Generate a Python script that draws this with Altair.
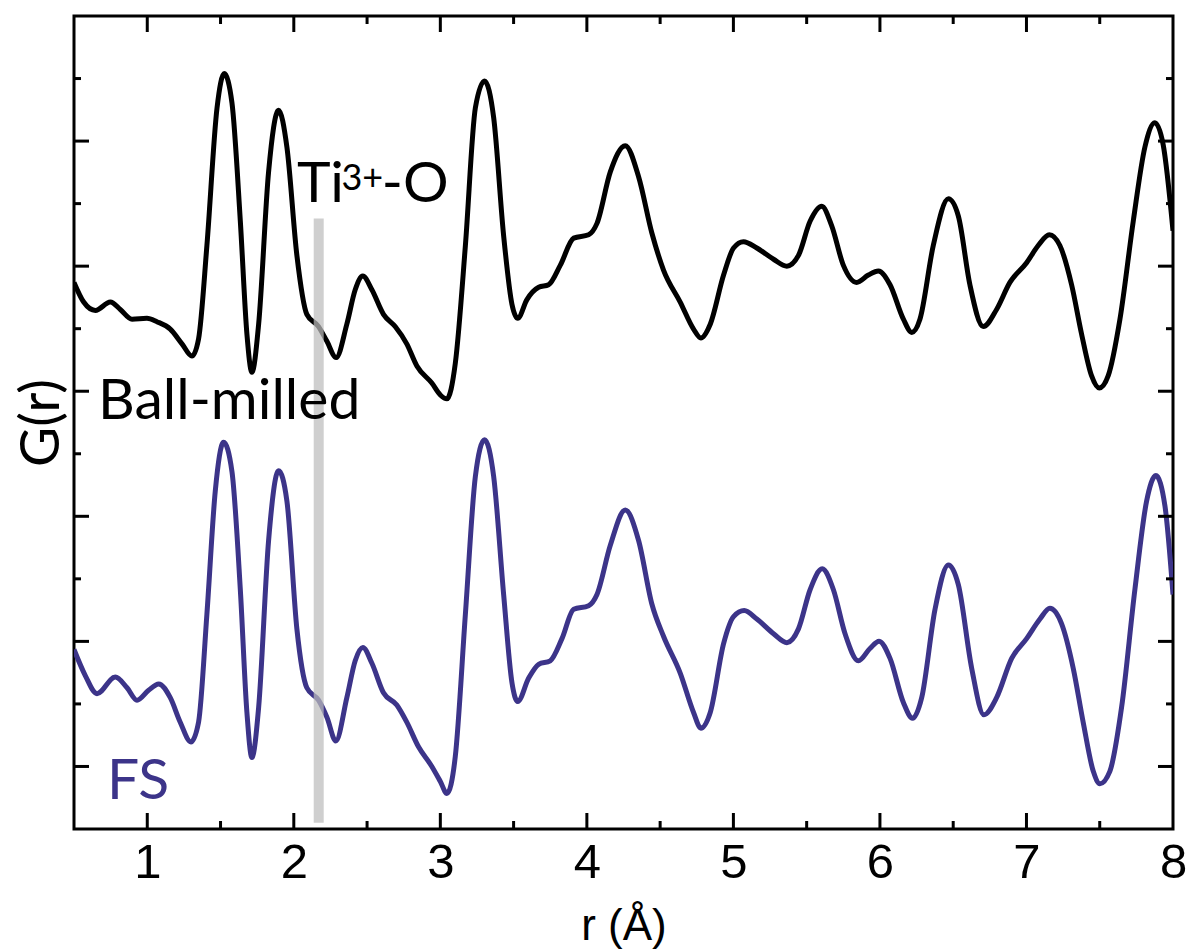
import altair as alt
import pandas as pd

# Ball-milled G(r) trace
r_ball = [0.50, 0.566, 0.646, 0.748, 0.816, 0.896, 0.998, 1.066, 1.157, 1.237,
          1.305, 1.350, 1.407, 1.476, 1.525, 1.578, 1.635, 1.680, 1.714, 1.760,
          1.828, 1.896, 1.953, 2.021, 2.089, 2.169, 2.226, 2.289, 2.362, 2.419,
          2.471, 2.533, 2.612, 2.692, 2.771, 2.840, 2.942, 3.000, 3.045, 3.102,
          3.171, 3.239, 3.302, 3.364, 3.432, 3.489, 3.528, 3.591, 3.671, 3.739,
          3.819, 3.910, 4.012, 4.069, 4.160, 4.262, 4.353, 4.444, 4.523, 4.637,
          4.728, 4.778, 4.842, 4.933, 5.001, 5.069, 5.160, 5.274, 5.365, 5.444,
          5.524, 5.603, 5.671, 5.750, 5.841, 5.921, 5.989, 6.069, 6.160, 6.217,
          6.273, 6.364, 6.467, 6.535, 6.614, 6.705, 6.796, 6.887, 7.001, 7.080,
          7.156, 7.228, 7.308, 7.376, 7.444, 7.497, 7.558, 7.638, 7.729, 7.808,
          7.876, 7.933, 8.00]
g_ball = [3.870, 3.713, 3.646, 3.713, 3.654, 3.576, 3.583, 3.556, 3.497, 3.379,
          3.281, 3.418, 4.165, 5.265, 5.540, 5.305, 4.361, 3.458, 3.151, 3.536,
          4.754, 5.246, 4.951, 4.086, 3.615, 3.517, 3.399, 3.269, 3.536, 3.811,
          3.921, 3.811, 3.615, 3.517, 3.379, 3.202, 3.065, 2.970, 2.939, 3.222,
          4.165, 5.265, 5.481, 5.187, 4.244, 3.694, 3.583, 3.733, 3.831, 3.851,
          4.008, 4.224, 4.251, 4.342, 4.754, 4.963, 4.715, 4.263, 3.969, 3.713,
          3.497, 3.426, 3.536, 3.929, 4.145, 4.196, 4.145, 4.055, 4.000, 4.086,
          4.361, 4.479, 4.322, 4.008, 3.870, 3.929, 3.961, 3.851, 3.576, 3.470,
          3.576, 4.165, 4.538, 4.401, 3.851, 3.517, 3.654, 3.870, 4.027, 4.165,
          4.251, 4.165, 3.851, 3.458, 3.124, 3.026, 3.124, 3.576, 4.361, 4.951,
          5.147, 4.971, 4.283]

# FS G(r) trace
r_fs = [0.50, 0.577, 0.657, 0.782, 0.862, 0.930, 1.009, 1.078, 1.157, 1.225,
        1.298, 1.350, 1.407, 1.464, 1.521, 1.578, 1.635, 1.680, 1.714, 1.760,
        1.828, 1.896, 1.953, 2.021, 2.089, 2.169, 2.226, 2.287, 2.362, 2.419,
        2.471, 2.533, 2.612, 2.703, 2.771, 2.851, 2.942, 3.000, 3.045, 3.102,
        3.171, 3.239, 3.302, 3.364, 3.432, 3.489, 3.528, 3.603, 3.671, 3.750,
        3.830, 3.910, 4.012, 4.069, 4.160, 4.262, 4.353, 4.444, 4.523, 4.637,
        4.728, 4.778, 4.842, 4.933, 5.001, 5.074, 5.160, 5.274, 5.365, 5.444,
        5.524, 5.606, 5.682, 5.762, 5.853, 5.932, 5.994, 6.069, 6.160, 6.223,
        6.285, 6.376, 6.467, 6.535, 6.626, 6.710, 6.796, 6.899, 7.001, 7.092,
        7.160, 7.240, 7.319, 7.387, 7.456, 7.501, 7.569, 7.649, 7.740, 7.820,
        7.883, 7.945, 8.00]
g_fs = [0.935, 0.727, 0.582, 0.715, 0.629, 0.530, 0.609, 0.660, 0.550, 0.354,
        0.196, 0.354, 1.218, 2.200, 2.593, 2.358, 1.415, 0.432, 0.071, 0.472,
        1.807, 2.365, 2.122, 1.100, 0.629, 0.530, 0.393, 0.204, 0.550, 0.845,
        0.951, 0.825, 0.589, 0.491, 0.354, 0.157, 0.000, -0.120, -0.216, 0.079,
        1.218, 2.318, 2.613, 2.318, 1.375, 0.668, 0.519, 0.707, 0.817, 0.845,
        1.022, 1.257, 1.285, 1.375, 1.768, 2.051, 1.807, 1.297, 1.041, 0.747,
        0.432, 0.306, 0.432, 0.982, 1.198, 1.246, 1.179, 1.061, 0.990, 1.100,
        1.415, 1.580, 1.415, 1.061, 0.845, 0.943, 1.002, 0.864, 0.511, 0.385,
        0.550, 1.257, 1.611, 1.454, 0.786, 0.413, 0.550, 0.864, 1.022, 1.179,
        1.265, 1.140, 0.786, 0.354, -0.039, -0.138, -0.039, 0.472, 1.415, 2.122,
        2.326, 2.083, 1.375]

# Axis tick positions
x_major = [1, 2, 3, 4, 5, 6, 7]
x_minor = [1.5, 2.5, 3.5, 4.5, 5.5, 6.5, 7.5]
x_labels = [1, 2, 3, 4, 5, 6, 7, 8]
y_major = [0, 1, 2, 3, 4, 5]
y_minor = [0.5, 1.5, 2.5, 3.5, 4.5, 5.5]

# Ti3+-O marker position
marker_r = 2.17
marker_g = [-0.45, 4.38]

# Annotation labels
labels_main = ["Ball-milled", "FS", "Ti", "-O"]
labels_r = [0.664, 0.725, 2.021, 2.60]
labels_g = [2.776, -0.264, 4.512, 4.512]
labels_color = ["black", "#3C3489", "black", "black"]
sup_text = ["3+"]
sup_r = [2.325]
sup_g = [4.61]

W, H = 1099, 813
PURPLE = "#3C3489"

xs = alt.Scale(domain=[0.5, 8], nice=False, zero=False)
ys = alt.Scale(domain=[-0.5, 6.0], nice=False, zero=False)

ball = pd.DataFrame({"r": r_ball, "g": g_ball})
fs = pd.DataFrame({"r": r_fs, "g": g_fs})

x_axis = alt.Axis(values=x_labels, format="d", ticks=False, domain=False, grid=False,
                  labelFont="Liberation Sans", labelFontSize=49, labelColor="black",
                  labelPadding=9, labelFlush=False, labelOverlap=False,
                  title="r (Å)", titleFont="Liberation Sans", titleFontSize=44,
                  titleFontWeight="normal", titleColor="black", titlePadding=17)
y_axis = alt.Axis(labels=False, ticks=False, domain=False, grid=False,
                  title="G(r)", titleFont="Lato", titleFontSize=55,
                  titleFontWeight="normal", titleColor="black", titlePadding=4)

line_ball = alt.Chart(ball).mark_line(interpolate="monotone", color="black",
                                      strokeWidth=5, clip=True).encode(
    x=alt.X("r:Q", scale=xs, axis=x_axis),
    y=alt.Y("g:Q", scale=ys, axis=y_axis),
)
line_fs = alt.Chart(fs).mark_line(interpolate="monotone", color=PURPLE,
                                  strokeWidth=5, clip=True).encode(
    x=alt.X("r:Q", scale=xs),
    y=alt.Y("g:Q", scale=ys),
)

marker = alt.Chart(pd.DataFrame({"r": [marker_r], "g0": [marker_g[0]], "g1": [marker_g[1]]})).mark_rule(
    color="#bdbdbd", strokeWidth=10, opacity=0.72).encode(
    x=alt.X("r:Q", scale=xs),
    y=alt.Y("g0:Q", scale=ys),
    y2="g1:Q",
)

ann = pd.DataFrame({"text": labels_main, "r": labels_r, "g": labels_g, "c": labels_color})
ann_text = alt.Chart(ann).mark_text(align="left", baseline="alphabetic", font="Lato",
                                    fontSize=57).encode(
    x=alt.X("r:Q", scale=xs),
    y=alt.Y("g:Q", scale=ys),
    text="text:N",
    color=alt.Color("c:N", scale=None),
)
sup = pd.DataFrame({"text": sup_text, "r": sup_r, "g": sup_g})
sup_mark = alt.Chart(sup).mark_text(align="left", baseline="alphabetic", font="Lato",
                                    fontSize=36, color="black").encode(
    x=alt.X("r:Q", scale=xs),
    y=alt.Y("g:Q", scale=ys),
    text="text:N",
)

def xticks(vals, length):
    d = pd.DataFrame({"t": vals})
    base = alt.Chart(d).mark_rule(color="black", strokeWidth=3)
    bottom = base.encode(x=alt.X("t:Q", scale=xs), y=alt.value(H), y2=alt.value(H - length))
    top = base.encode(x=alt.X("t:Q", scale=xs), y=alt.value(0), y2=alt.value(length))
    return [bottom, top]

def yticks(vals, length):
    d = pd.DataFrame({"t": vals})
    base = alt.Chart(d).mark_rule(color="black", strokeWidth=3)
    left = base.encode(y=alt.Y("t:Q", scale=ys), x=alt.value(0), x2=alt.value(length))
    right = base.encode(y=alt.Y("t:Q", scale=ys), x=alt.value(W), x2=alt.value(W - length))
    return [left, right]

tick_layers = xticks(x_major, 16) + xticks(x_minor, 8) + yticks(y_major, 15) + yticks(y_minor, 7)

chart = alt.layer(
    line_ball, line_fs, marker, ann_text, sup_mark, *tick_layers
).properties(
    width=W, height=H,
    autosize=alt.AutoSizeParams(type="none"),
    padding={"left": 74, "top": 16, "right": 17, "bottom": 123},
).configure(
    background="white",
    view=alt.ViewConfig(stroke="black", strokeWidth=3),
)

chart.save("out.html", embed_options={"renderer": "svg", "actions": False})
